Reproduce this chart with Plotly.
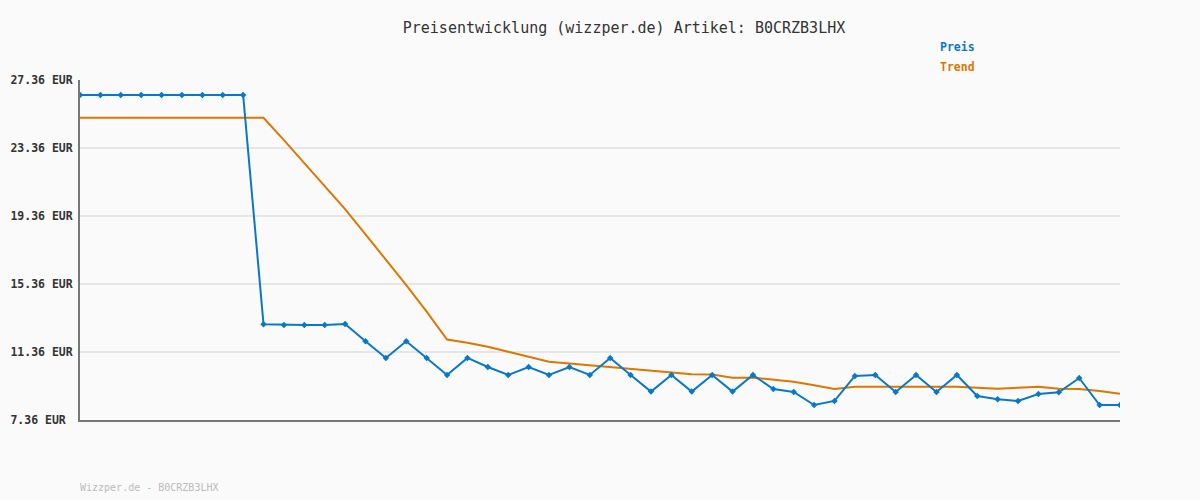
import plotly.graph_objects as go

# ---- data ----
idx = list(range(52))
preis = [26.48] * 9 + [
    12.99, 12.95, 12.95, 12.95, 13.01, 11.99, 11.01, 11.99, 11.01, 10.01,
    11.01, 10.48, 10.01, 10.48, 10.01, 10.48, 10.01, 11.01, 10.01, 9.03,
    10.01, 9.03, 10.01, 9.03, 10.01, 9.18, 9.01, 8.24, 8.48, 9.95,
    10.01, 9.01, 10.01, 9.01, 10.01, 8.77, 8.58, 8.48, 8.89, 8.99,
    9.83, 8.24, 8.24,
]
trend = [25.14] * 10 + [
    23.82, 22.47, 21.11, 19.76, 18.28, 16.80, 15.30, 13.73, 12.09, 11.90,
    11.67, 11.38, 11.08, 10.79, 10.68, 10.57, 10.46, 10.35, 10.25, 10.14,
    10.05, 10.03, 9.85, 9.85, 9.75, 9.61, 9.40, 9.18, 9.32, 9.32,
    9.32, 9.32, 9.32, 9.32, 9.26, 9.20, 9.26, 9.32, 9.20, 9.18,
    9.07, 8.91,
]
tick_vals = [7.36, 11.36, 15.36, 19.36, 23.36, 27.36]
tick_text = ["7.36 EUR\u00a0", "11.36 EUR", "15.36 EUR", "19.36 EUR", "23.36 EUR", "27.36 EUR"]

BLUE = "#0a78c8"
ORANGE = "#dd7700"
MONO = "DejaVu Sans Mono, Liberation Mono, monospace"

fig = go.Figure()
fig.add_trace(go.Scatter(
    x=idx, y=trend, mode="lines", name="Trend",
    line=dict(color=ORANGE, width=2), showlegend=False,
))
fig.add_trace(go.Scatter(
    x=idx, y=preis, mode="lines+markers", name="Preis",
    line=dict(color=BLUE, width=2),
    marker=dict(symbol="diamond", size=5, color=BLUE),
    showlegend=False,
))

fig.update_layout(
    width=1200, height=500,
    margin=dict(l=80, r=80, t=80, b=80, autoexpand=False),
    paper_bgcolor="#fafafa", plot_bgcolor="#fafafa",
    title=dict(
        text="Preisentwicklung (wizzper.de) Artikel: B0CRZB3LHX",
        x=0.52, xanchor="center", xref="container",
        y=1 - 28 / 500, yanchor="middle", yref="container",
        font=dict(family=MONO, size=15, color="#333333"),
    ),
    xaxis=dict(
        range=[0, 51], showgrid=False, zeroline=False,
        showticklabels=False, ticks="", automargin=False,
        showline=True, linecolor="#777777", linewidth=2,
    ),
    yaxis=dict(
        range=[7.36, 27.36], tickvals=tick_vals, ticktext=tick_text,
        showgrid=True, gridcolor="#e6e6e6", gridwidth=2,
        zeroline=False, ticks="", automargin=False,
        showline=True, linecolor="#777777", linewidth=2,
        tickfont=dict(family=MONO, size=11.5, color="#333333", weight="bold"),
        ticklabelstandoff=3,
    ),
    annotations=[
        dict(text="<b>Preis</b>", xref="paper", yref="paper",
             x=(938 - 80) / 1040, y=(420 - 47) / 340,
             xanchor="left", yanchor="middle", showarrow=False,
             font=dict(family=MONO, size=11.5, color=BLUE)),
        dict(text="<b>Trend</b>", xref="paper", yref="paper",
             x=(938 - 80) / 1040, y=(420 - 67) / 340,
             xanchor="left", yanchor="middle", showarrow=False,
             font=dict(family=MONO, size=11.5, color=ORANGE)),
        dict(text="Wizzper.de - B0CRZB3LHX", xref="paper", yref="paper",
             x=-2 / 1040, y=(420 - 487) / 340,
             xanchor="left", yanchor="middle", showarrow=False,
             font=dict(family=MONO, size=10, color="#bbbbbb")),
    ],
)

fig.write_html(
    "out.html",
    config={"displayModeBar": False},
    post_script="document.body.style.margin='0';document.body.style.overflow='hidden';",
)
